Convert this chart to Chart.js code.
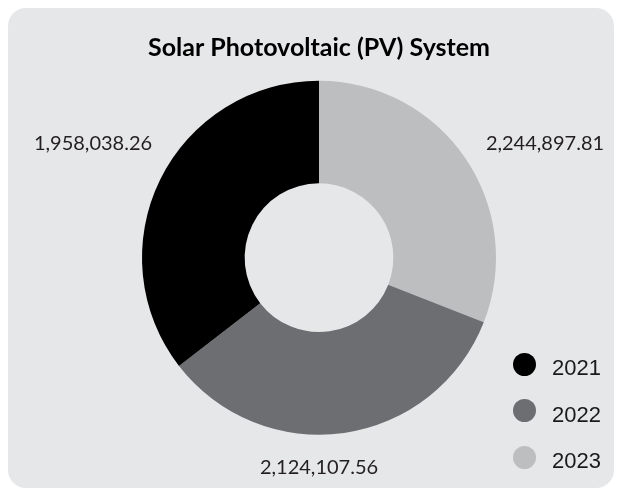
<!DOCTYPE html>
<html>
<head>
<meta charset="utf-8">
<script src="https://cdn.jsdelivr.net/npm/chart.js@4.4.0/dist/chart.umd.min.js"></script>
<style>
  body { margin: 0; background: #fff; }
  #wrap { position: relative; width: 622px; height: 496px; }
  #panel { position: absolute; left: 8px; top: 8px; width: 606px; height: 480px; background: #e6e7e8; border-radius: 18px; }
  #pv_chart { position: absolute; left: 0; top: 0; }
  #legend { position: absolute; left: 513px; top: 341px; margin: 0; padding: 0; list-style: none;
            font-family: "Liberation Sans", Arial, sans-serif; font-size: 22px; color: #1a1a1a; }
  #legend li { display: flex; align-items: center; height: 46.5px; }
  #legend .dot { width: 23px; height: 23px; border-radius: 50%; margin-right: 16px; }
  #legend .txt { margin-top: 8px; }
</style>
</head>
<body>
<div id="wrap">
  <div id="panel"></div>
  <canvas id="pv_chart" width="622" height="496"></canvas>
  <ul id="legend"></ul>
</div>
<script>
var chartTitle = 'Solar Photovoltaic (PV) System';
var years = ['2021', '2022', '2023'];
var values = [1958038.26, 2124107.56, 2244897.81];
var yearColors = ['#000000', '#6d6e71', '#bcbec0'];

// the reference paints the slices clockwise from 12 o'clock in reverse year order,
// while the slice sweeps follow the values in year order
var sliceYears = years.slice().reverse();
var sliceColors = sliceYears.map(function (y) {
    return yearColors[years.indexOf(y)];
});
var sliceTexts = sliceYears.map(function (y) {
    return values[years.indexOf(y)].toLocaleString('en-US', {minimumFractionDigits: 2, maximumFractionDigits: 2});
});

var valueLabels = {
    id: 'valueLabels',
    afterDatasetsDraw: function (chart) {
        var ctx = chart.ctx;
        var meta = chart.getDatasetMeta(0);
        var spots = meta.data.map(function (arc) {
            var p = arc.getProps(['x', 'y', 'startAngle', 'endAngle', 'outerRadius'], true);
            var mid = (p.startAngle + p.endAngle) / 2;
            var r = p.outerRadius + 25;
            return {cx: p.x, cy: p.y, r: r, cos: Math.cos(mid), sin: Math.sin(mid),
                    x: p.x + Math.cos(mid) * r, y: p.y + Math.sin(mid) * r};
        });
        // side labels in the upper half share one row, slid along the label circle
        var rowY = Math.min.apply(null, spots.map(function (s) { return s.y; }));
        ctx.save();
        ctx.font = '20px Lato';
        ctx.fillStyle = '#231f20';
        spots.forEach(function (s, i) {
            var x = s.x, y = s.y;
            if (Math.abs(s.cos) < 0.3) {
                ctx.textAlign = 'center';
                x = s.cx;
            } else {
                ctx.textAlign = s.cos > 0 ? 'left' : 'right';
                if (s.sin < 0) {
                    y = rowY;
                    x = s.cx + (s.cos > 0 ? 1 : -1) * Math.sqrt(s.r * s.r - (rowY - s.cy) * (rowY - s.cy));
                }
            }
            ctx.textBaseline = s.sin > 0.8 ? 'top' : 'middle';
            ctx.fillText(sliceTexts[i], x, y);
        });
        ctx.restore();
    }
};

var ctx = document.getElementById('pv_chart').getContext('2d');
var myChart = new Chart(ctx, {
    type: 'doughnut',
    data: {
        labels: sliceYears,
        datasets: [
            {
                data: values,
                backgroundColor: sliceColors,
                borderWidth: 0,
                hoverOffset: 0
            }
        ]
    },
    options: {
        responsive: false,
        animation: false,
        cutout: '42%',
        layout: {
            padding: {left: 142, right: 126, top: 0, bottom: 61}
        },
        plugins: {
            title: {
                display: true,
                text: chartTitle,
                color: '#000',
                font: {family: 'Lato', size: 25, weight: 'bold'},
                padding: {top: 32.5, bottom: 17.9}
            },
            legend: {display: false},
            tooltip: {enabled: false}
        }
    },
    plugins: [valueLabels]
});

var legend = document.getElementById('legend');
years.forEach(function (y, i) {
    var li = document.createElement('li');
    var dot = document.createElement('span');
    dot.className = 'dot';
    dot.style.background = yearColors[i];
    var txt = document.createElement('span');
    txt.className = 'txt';
    txt.textContent = y;
    li.appendChild(dot);
    li.appendChild(txt);
    legend.appendChild(li);
});
</script>
</body>
</html>
